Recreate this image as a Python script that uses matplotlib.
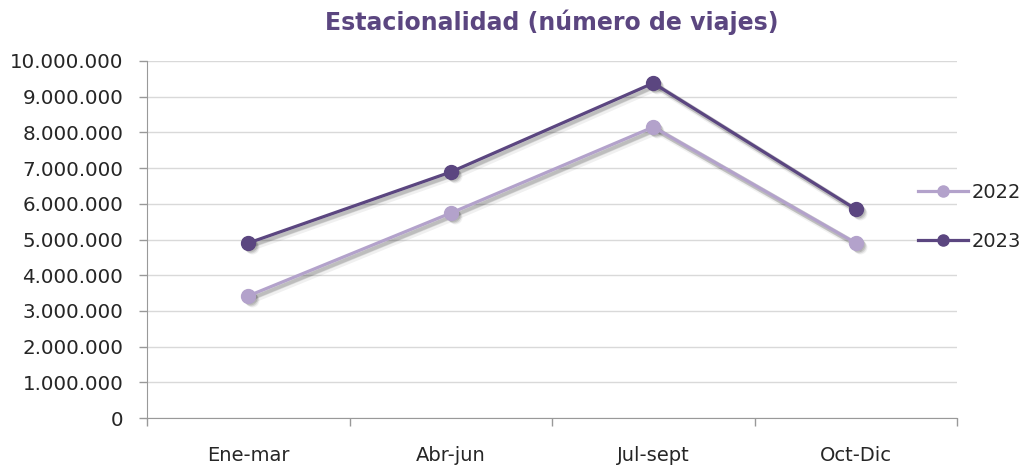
import matplotlib
matplotlib.use("Agg")
import matplotlib.pyplot as plt
import matplotlib.transforms as mtransforms
from matplotlib.ticker import FuncFormatter, FixedLocator

categories = ["Ene-mar", "Abr-jun", "Jul-sept", "Oct-Dic"]
v2022 = [3420000, 5740000, 8150000, 4900000]
v2023 = [4900000, 6890000, 9380000, 5850000]
series_names = ["2022", "2023"]

c2022 = "#B3A2CB"
c2023 = "#5B4680"

plt.rcParams['font.family'] = ['DejaVu Sans']

fig = plt.figure(figsize=(10.30, 4.67), dpi=100)
ax = fig.add_axes([147/1030, 1-418/467, (957-147)/1030, (418-61)/467])

x = list(range(len(categories)))
for vals in (v2022, v2023):
    for k, (dx, dy, a) in enumerate([(3, -3, 0.10), (2, -2, 0.12), (4, -4, 0.06)]):
        tr = mtransforms.offset_copy(ax.transData, fig=fig, x=dx, y=dy, units='dots')
        ax.plot(x, vals, color='black', alpha=a, lw=3.0 + k, marker='o', ms=10,
                mec='none', transform=tr, zorder=2)

ax.plot(x, v2022, color=c2022, lw=2.3, marker='o', ms=10, label=series_names[0], zorder=3)
ax.plot(x, v2023, color=c2023, lw=2.3, marker='o', ms=10, label=series_names[1], zorder=4)

ax.set_xlim(-0.5, 3.5)
ax.set_ylim(0, 10000000)
ax.yaxis.set_major_locator(FixedLocator([i*1000000 for i in range(11)]))
ax.yaxis.set_major_formatter(FuncFormatter(lambda v, p: f"{int(v):,}".replace(",", ".")))
ax.set_xticks(x)
ax.set_xticklabels(categories)
ax.xaxis.set_minor_locator(FixedLocator([-0.5, 0.5, 1.5, 2.5, 3.5]))
ax.tick_params(axis='x', which='major', length=0, pad=20, labelsize=14, colors='#262626')
ax.tick_params(axis='x', which='minor', length=6, color='#999999', width=1)
ax.tick_params(axis='y', length=6, color='#999999', width=1, labelsize=14.3, labelcolor='#262626', pad=11)

ax.grid(axis='y', color='#D9D9D9', lw=1)
ax.set_axisbelow(True)
for s in ['top', 'right']:
    ax.spines[s].set_visible(False)
ax.spines['left'].set_color('#999999')
ax.spines['bottom'].set_color('#999999')

ax.set_title("Estacionalidad (número de viajes)", color=c2023, fontsize=17, fontweight='bold', pad=22)

leg = fig.legend(loc='center left', bbox_to_anchor=(910/1030, 1-217/467), frameon=False,
                 fontsize=14, handlelength=2.6, handletextpad=0.15, labelspacing=1.55,
                 borderaxespad=0, markerscale=0.8)
for t in leg.get_texts():
    t.set_color('#262626')

fig.savefig("out.png", dpi=100)
